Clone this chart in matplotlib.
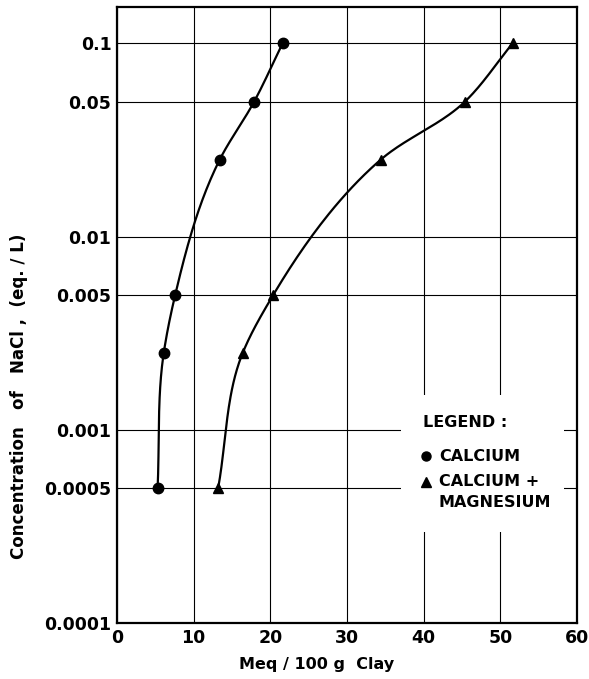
import numpy as np
import matplotlib.pyplot as plt
from matplotlib.patches import Rectangle

# readings from the figure
conc = [0.0005, 0.0025, 0.005, 0.025, 0.05, 0.1]
calcium = [5.3, 6.1, 7.6, 13.4, 17.9, 21.6]
calcium_mg = [13.2, 16.4, 20.4, 34.4, 45.4, 51.6]

yticks = [0.0001, 0.0005, 0.001, 0.005, 0.01, 0.05, 0.1]
ylabels = ["0.0001", "0.0005", "0.001", "0.005", "0.01", "0.05", "0.1"]
xticks = [0, 10, 20, 30, 40, 50, 60]


def smooth(xs, ys, n=40, alpha=1.0):
    # chordal Catmull-Rom through the points, in roughly screen units,
    # only used to draw the line between the markers
    P = np.column_stack([np.asarray(xs, float) / 60 * 460, np.log10(ys) * 193])
    P = np.vstack([2 * P[0] - P[1], P, 2 * P[-1] - P[-2]])
    out = []
    for i in range(1, len(P) - 2):
        p0, p1, p2, p3 = P[i - 1:i + 3]
        t0 = 0.0
        t1 = t0 + np.linalg.norm(p1 - p0) ** alpha
        t2 = t1 + np.linalg.norm(p2 - p1) ** alpha
        t3 = t2 + np.linalg.norm(p3 - p2) ** alpha
        t = np.linspace(t1, t2, n)[:, None]
        a1 = (t1 - t) / (t1 - t0) * p0 + (t - t0) / (t1 - t0) * p1
        a2 = (t2 - t) / (t2 - t1) * p1 + (t - t1) / (t2 - t1) * p2
        a3 = (t3 - t) / (t3 - t2) * p2 + (t - t2) / (t3 - t2) * p3
        b1 = (t2 - t) / (t2 - t0) * a1 + (t - t0) / (t2 - t0) * a2
        b2 = (t3 - t) / (t3 - t1) * a2 + (t - t1) / (t3 - t1) * a3
        out.append((t2 - t) / (t2 - t1) * b1 + (t - t1) / (t2 - t1) * b2)
    C = np.vstack(out)
    return C[:, 0] * 60 / 460, 10 ** (C[:, 1] / 193)


fig = plt.figure(figsize=(5.89, 6.79), dpi=100)
ax = fig.add_axes([0.1986, 0.0825, 0.7810, 0.907])
ax.set_yscale("log")
ax.set_xlim(0, 60)
ax.set_ylim(0.0001, 0.154)

ax.set_xticks(xticks)
ax.set_xticklabels([str(v) for v in xticks], fontsize=12.5, fontweight="bold")
ax.set_yticks(yticks)
ax.set_yticklabels(ylabels, fontsize=12.5, fontweight="bold")
ax.minorticks_off()
ax.tick_params(length=0, pad=4)
ax.grid(True, color="black", lw=0.8)
for s in ax.spines.values():
    s.set_linewidth(1.6)

for xs, m in [(calcium, "o"), (calcium_mg, "^")]:
    cx, cy = smooth(xs, conc)
    ax.plot(cx, cy, color="black", lw=1.6, zorder=3)
    ax.plot(xs, conc, m, color="black", ms=7.5, zorder=4)

# legend: white patch over the grid, then the entries
ax.add_patch(Rectangle((0.617, 0.148), 0.355, 0.222, transform=ax.transAxes,
                       facecolor="white", edgecolor="none", zorder=2))
ax.text(0.665, 0.326, "LEGEND :", transform=ax.transAxes, fontsize=11.5,
        va="center", ha="left", fontweight="bold", zorder=6)
ax.plot(0.672, 0.271, "o", color="black", ms=6.5, transform=ax.transAxes, zorder=6)
ax.text(0.700, 0.271, "CALCIUM", transform=ax.transAxes, fontsize=11.5,
        va="center", ha="left", fontweight="bold", zorder=6)
ax.plot(0.672, 0.229, "^", color="black", ms=6.5, transform=ax.transAxes, zorder=6)
ax.text(0.700, 0.229, "CALCIUM +", transform=ax.transAxes, fontsize=11.5,
        va="center", ha="left", fontweight="bold", zorder=6)
ax.text(0.700, 0.196, "MAGNESIUM", transform=ax.transAxes, fontsize=11.5,
        va="center", ha="left", fontweight="bold", zorder=6)

fig.text(317 / 589, 1 - 665 / 679, "Meq / 100 g  Clay", fontsize=11.5,
         fontweight="bold", ha="center", va="center")
fig.text(19 / 589, 1 - 396 / 679, "Concentration   of   NaCl ,  (eq. / L)",
         fontsize=12, fontweight="bold", ha="center", va="center", rotation=90)

fig.savefig("out.png", dpi=100)
